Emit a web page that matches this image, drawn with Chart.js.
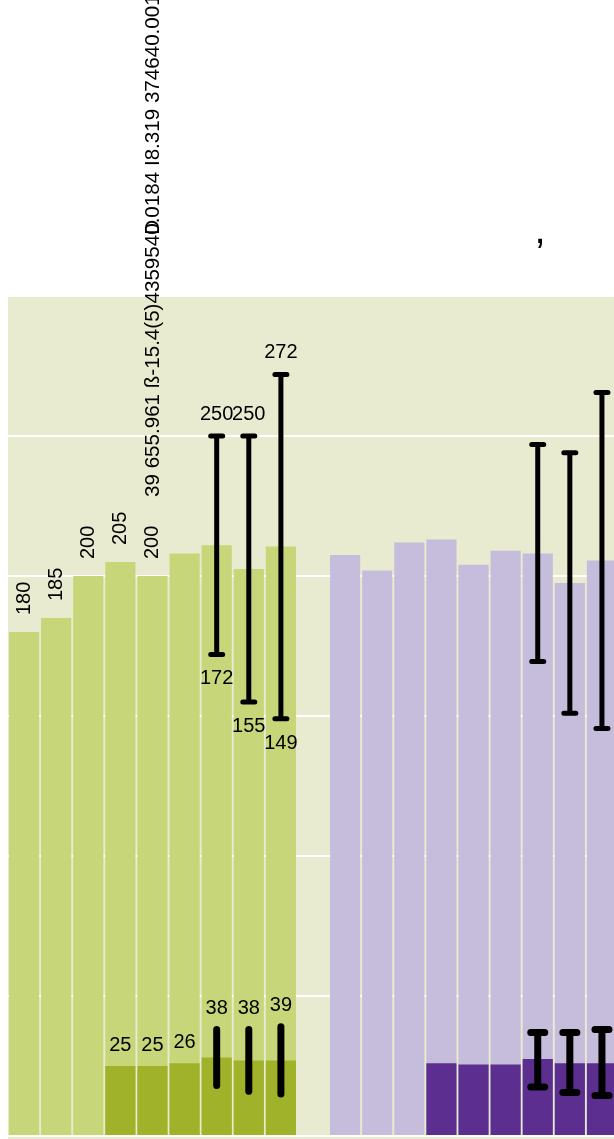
<!DOCTYPE html>
<html>
<head>
<meta charset="utf-8">
<script src="https://cdn.jsdelivr.net/npm/chart.js@4"></script>
<style>
  html, body { margin: 0; padding: 0; background: #ffffff; overflow: hidden; }
  #wrap { width: 614px; height: 1139px; overflow: hidden; }
</style>
</head>
<body>
<div id="wrap"><canvas id="chart" width="630" height="1139"></canvas></div>
<script>
// two groups of nine bars, one empty slot between them
const groupA = ['a1', 'a2', 'a3', 'a4', 'a5', 'a6', 'a7', 'a8', 'a9'];
const groupB = ['b1', 'b2', 'b3', 'b4', 'b5', 'b6', 'b7', 'b8', 'b9'];

const greenTotal = [180, 185, 200, 205, 200, 208, 211, 202.5, 210.5];
const greenBase = [null, null, null, 25, 25, 26, 28, 27, 27];
const purpleTotal = [207.5, 202, 212, 213, 204, 209, 208, 197.5, 205.5];
const purpleBase = [null, null, null, 26, 25.5, 25.5, 27.5, 26, 26];

// error ranges (high / low)
const greenErrHigh = [null, null, null, null, null, null, 250, 250, 272];
const greenErrLow = [null, null, null, null, null, null, 172, 155, 149];
const purpleErrHigh = [null, null, null, null, null, null, 247, 244, 265.5];
const purpleErrLow = [null, null, null, null, null, null, 169.5, 151, 145.5];
const greenBaseErrHigh = [null, null, null, null, null, null, 38, 38, 39];
const greenBaseErrLow = [null, null, null, null, null, null, 18, 16, 15];
const purpleBaseErrHigh = [null, null, null, null, null, null, 37, 37, 38];
const purpleBaseErrLow = [null, null, null, null, null, null, 17.5, 15.5, 14.5];

// which values get printed
const greenTotalLabels = ['180', '185', '200', '205', '200', null, null, null, null];
const greenBaseLabels = [null, null, null, '25', '25', '26', null, null, null];
const greenErrHighLabels = [null, null, null, null, null, null, '250', '250', '272'];
const greenErrLowLabels = [null, null, null, null, null, null, '172', '155', '149'];
const greenBaseErrLabels = [null, null, null, null, null, null, '38', '38', '39'];

const strayText = '39 655.961 ß-15.4(5)4359540.0184 I8.319 374640.001';
const strayPrefix = '39 655.961 ß-15.4(5)435954';
const yTicks = [0, 50, 100, 150, 200, 250, 300];

const categories = [...groupA, '', ...groupB];
const FONT = '20px "Liberation Sans", Arial, sans-serif';

const panelBg = {
  id: 'panelBg',
  beforeDraw(chart) {
    const { ctx, chartArea } = chart;
    ctx.save();
    ctx.fillStyle = '#e8ebcf';
    ctx.fillRect(chartArea.left, chartArea.top, chart.width - chartArea.left, chart.height - chartArea.top);
    ctx.restore();
  }
};

function drawErr(ctx, xs, ys, offset, highs, lows, width, cap) {
  highs.forEach((h, i) => {
    if (h == null) return;
    const x = xs.getPixelForValue(i + offset);
    const y1 = ys.getPixelForValue(h);
    const y2 = ys.getPixelForValue(lows[i]);
    ctx.lineWidth = width;
    ctx.beginPath();
    ctx.moveTo(x, y1);
    ctx.lineTo(x, y2);
    if (cap) {
      ctx.moveTo(x - cap, y1);
      ctx.lineTo(x + cap, y1);
      ctx.moveTo(x - cap, y2);
      ctx.lineTo(x + cap, y2);
    }
    ctx.stroke();
  });
}

const extras = {
  id: 'extras',
  afterDatasetsDraw(chart) {
    const { ctx } = chart;
    const xs = chart.scales.x, ys = chart.scales.y;
    ctx.save();
    ctx.strokeStyle = '#000000';
    ctx.lineCap = 'round';
    drawErr(ctx, xs, ys, 0, greenErrHigh, greenErrLow, 5, 6);
    drawErr(ctx, xs, ys, 10, purpleErrHigh, purpleErrLow, 5, 6);
    drawErr(ctx, xs, ys, 0, greenBaseErrHigh, greenBaseErrLow, 7, 0);
    drawErr(ctx, xs, ys, 10, purpleBaseErrHigh, purpleBaseErrLow, 7, 7);

    ctx.fillStyle = '#000000';
    ctx.font = FONT;
    ctx.textAlign = 'center';
    ctx.textBaseline = 'alphabetic';
    greenBaseLabels.forEach((t, i) => {
      if (t) ctx.fillText(t, xs.getPixelForValue(i), ys.getPixelForValue(greenBase[i]) - 15);
    });
    greenErrHighLabels.forEach((t, i) => {
      if (t) ctx.fillText(t, xs.getPixelForValue(i), ys.getPixelForValue(greenErrHigh[i]) - 16);
    });
    greenErrLowLabels.forEach((t, i) => {
      if (t) ctx.fillText(t, xs.getPixelForValue(i), ys.getPixelForValue(greenErrLow[i]) + 30);
    });
    greenBaseErrLabels.forEach((t, i) => {
      if (t) ctx.fillText(t, xs.getPixelForValue(i), ys.getPixelForValue(greenBaseErrHigh[i]) - 16);
    });

    // rotated labels over the first bars
    ctx.textAlign = 'left';
    ctx.textBaseline = 'middle';
    greenTotalLabels.forEach((t, i) => {
      if (!t) return;
      ctx.save();
      ctx.translate(xs.getPixelForValue(i), ys.getPixelForValue(greenTotal[i]) - 17);
      ctx.rotate(-Math.PI / 2);
      ctx.fillText(t, 0, 0);
      ctx.restore();
    });

    // the long overprinted string above bar 5
    ctx.save();
    ctx.font = '20.6px "Liberation Sans", Arial, sans-serif';
    ctx.translate(xs.getPixelForValue(4) + 1, 497);
    ctx.rotate(-Math.PI / 2);
    ctx.fillText(strayText, 0, 0);
    ctx.fillText('D', ctx.measureText(strayPrefix).width, 0);
    ctx.restore();

    ctx.font = '40px "Liberation Sans", Arial, sans-serif';
    ctx.textAlign = 'center';
    ctx.textBaseline = 'alphabetic';
    ctx.fillText(',', 540, 243);
    ctx.restore();
  }
};

const dark = [...greenBase, null, ...purpleBase];
const light = [...greenTotal, null, ...purpleTotal];

new Chart(document.getElementById('chart'), {
  type: 'bar',
  data: {
    labels: categories,
    datasets: [
      {
        label: 'base',
        data: dark,
        backgroundColor: categories.map((c, i) => (i < 10 ? '#a0b12a' : '#5c2e90')),
        barPercentage: 0.94,
        categoryPercentage: 1
      },
      {
        label: 'total',
        data: light,
        backgroundColor: categories.map((c, i) => (i < 10 ? '#c8d67a' : '#c6bcdb')),
        barPercentage: 0.94,
        categoryPercentage: 1
      }
    ]
  },
  options: {
    responsive: false,
    animation: false,
    devicePixelRatio: 1,
    layout: { padding: { top: 296, bottom: 3, left: 8, right: 12 } },
    plugins: { legend: { display: false }, tooltip: { enabled: false } },
    scales: {
      x: { display: false, stacked: true },
      y: {
        min: 0,
        max: 300,
        afterBuildTicks: (scale) => { scale.ticks = yTicks.map(v => ({ value: v })); },
        ticks: { display: false },
        border: { display: false },
        grid: { color: '#ffffff', lineWidth: 2, drawTicks: false }
      }
    }
  },
  plugins: [panelBg, extras]
});
</script>
</body>
</html>
